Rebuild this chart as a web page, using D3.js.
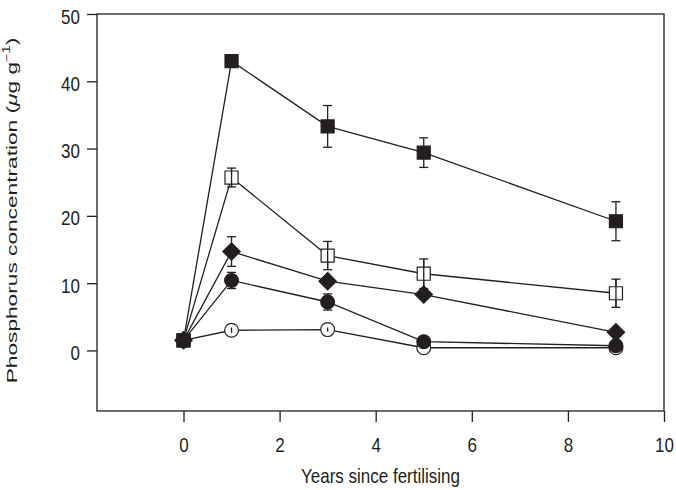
<!DOCTYPE html>
<html>
<head>
<meta charset="utf-8">
<script src="https://cdn.jsdelivr.net/npm/d3@7"></script>
<style>
  body { margin: 0; background: #fff; }
  text { font-family: "Liberation Sans", Arial, sans-serif; fill: #231f20; }
</style>
</head>
<body>
<div id="chart"></div>
<script>
var w = 676,
    h = 490;

var margin = {top: 14, right: 12, bottom: 79, left: 97};

// data
var years = [0, 1, 3, 5, 9];

var filledSquare = [1.5, 43.0, 33.3, 29.4, 19.2],
    filledSquareErr = [0, 0.3, 3.1, 2.2, 2.9];

var openSquare = [1.5, 25.7, 14.1, 11.4, 8.5],
    openSquareErr = [0, 1.4, 2.1, 2.2, 2.1];

var diamond = [1.5, 14.7, 10.3, 8.3, 2.7],
    diamondErr = [0, 2.2, 0.6, 0.5, 0.3];

var filledCircle = [1.5, 10.4, 7.2, 1.3, 0.7],
    filledCircleErr = [0, 1.2, 1.2, 0.3, 0.2];

var openCircle = [1.5, 3.0, 3.1, 0.4, 0.4],
    openCircleErr = [0, 0.4, 0.3, 0.1, 0.1];

var xTicks = [0, 2, 4, 6, 8, 10],
    yTicks = [0, 10, 20, 30, 40, 50];

var series = [
  {name: "openCircle", values: openCircle, err: openCircleErr, shape: "circle", fill: "#fff"},
  {name: "filledCircle", values: filledCircle, err: filledCircleErr, shape: "circle", fill: "#231f20"},
  {name: "diamond", values: diamond, err: diamondErr, shape: "diamond", fill: "#231f20"},
  {name: "openSquare", values: openSquare, err: openSquareErr, shape: "square", fill: "#fff"},
  {name: "filledSquare", values: filledSquare, err: filledSquareErr, shape: "square", fill: "#231f20"}
];

var ink = "#231f20";
var stretch = 1.22; // the original figure's text is a bit taller than wide

// square turned 45 degrees, like the reference diamond
var wideDiamond = {
  draw: function(ctx, size) {
    var r = Math.sqrt(size / 2);
    ctx.moveTo(0, -r);
    ctx.lineTo(r, 0);
    ctx.lineTo(0, r);
    ctx.lineTo(-r, 0);
    ctx.closePath();
  }
};

var svg = d3.select("#chart")
    .append("svg")
    .attr("width", w)
    .attr("height", h);

var x = d3.scaleLinear()
    .domain([-1.8, 10])
    .range([margin.left, w - margin.right]);

var y = d3.scaleLinear()
    .domain([-9, 50])
    .range([h - margin.bottom, margin.top]);

// frame
svg.append("rect")
   .attr("x", x(-1.8))
   .attr("y", y(50))
   .attr("width", x(10) - x(-1.8))
   .attr("height", y(-9) - y(50))
   .attr("fill", "none")
   .attr("stroke", ink)
   .attr("stroke-width", 1.3);

var xAxis = svg.append("g")
    .attr("transform", "translate(0," + y(-9) + ")")
    .call(d3.axisBottom(x).tickValues(xTicks).tickSize(11).tickSizeOuter(0));

var yAxis = svg.append("g")
    .attr("transform", "translate(" + x(-1.8) + ",0)")
    .call(d3.axisLeft(y).tickValues(yTicks).tickSize(10).tickSizeOuter(0));

[xAxis, yAxis].forEach(function(a) {
  a.select(".domain").remove();
  a.selectAll(".tick line").attr("stroke", ink).attr("stroke-width", 1.3);
  a.selectAll(".tick text").attr("font-size", 17).attr("fill", ink)
   .attr("x", 0).attr("y", 0).attr("dy", 0)
   .style("font-family", "'Liberation Sans', Arial, sans-serif");
});

xAxis.selectAll(".tick text")
     .attr("transform", "translate(0,41) scale(1," + stretch + ")");
yAxis.selectAll(".tick text")
     .attr("transform", "translate(-17,9) scale(1," + stretch + ")");

// axis titles
svg.append("text")
   .attr("transform", "translate(" + ((x(-1.8) + x(10)) / 2) + ",483) scale(1," + stretch + ")")
   .attr("text-anchor", "middle")
   .attr("font-size", 17)
   .text("Years since fertilising");

var yl = svg.append("text")
   .attr("text-anchor", "middle")
   .attr("font-size", 15.5);
yl.append("tspan").text("Phosphorus concentration (");
yl.append("tspan").attr("font-style", "italic").text("\u03bc");
yl.append("tspan").text("g g");
yl.append("tspan").attr("font-size", 10).attr("dy", -7).text("\u22121");
yl.append("tspan").attr("dy", 7).text(")");

// stretch the label along its length to match the figure
var ylLen = yl.node().getComputedTextLength() || 240;
yl.attr("transform", "translate(17," + ((y(50) + y(-9)) / 2 - 2) + ") rotate(-90) scale(" + (346 / ylLen) + ",1)");

var line = d3.line()
    .x(function(d) { return x(d[0]); })
    .y(function(d) { return y(d[1]); });

var capW = 4.5;

series.forEach(function(s) {
  var pts = years.map(function(yr, i) { return [yr, s.values[i], s.err[i]]; });
  var g = svg.append("g").attr("class", s.name);

  g.append("path")
   .datum(pts)
   .attr("d", line)
   .attr("fill", "none")
   .attr("stroke", ink)
   .attr("stroke-width", 1.3);

  var eb = g.selectAll(".err")
    .data(pts.filter(function(d) { return d[2] > 0; }))
    .enter().append("g");

  eb.append("line")
    .attr("x1", function(d) { return x(d[0]); })
    .attr("x2", function(d) { return x(d[0]); })
    .attr("y1", function(d) { return y(d[1] + d[2]); })
    .attr("y2", function(d) { return y(d[1] - d[2]); })
    .attr("stroke", ink).attr("stroke-width", 1.3);

  [1, -1].forEach(function(sign) {
    eb.append("line")
      .attr("x1", function(d) { return x(d[0]) - capW; })
      .attr("x2", function(d) { return x(d[0]) + capW; })
      .attr("y1", function(d) { return y(d[1] + sign * d[2]); })
      .attr("y2", function(d) { return y(d[1] + sign * d[2]); })
      .attr("stroke", ink).attr("stroke-width", 1.3);
  });

  var sym = s.shape === "circle" ? d3.symbolCircle :
            s.shape === "square" ? d3.symbolSquare : wideDiamond;
  var size = s.shape === "circle" ? 150 : s.shape === "square" ? 170 : 150;

  g.selectAll(".mark")
    .data(pts)
    .enter().append("path")
    .attr("d", d3.symbol().type(sym).size(size))
    .attr("transform", function(d) { return "translate(" + x(d[0]) + "," + y(d[1]) + ")"; })
    .attr("fill", s.fill)
    .attr("stroke", ink)
    .attr("stroke-width", 1.2);

  // open markers show the error bar through them
  if (s.fill === "#fff") {
    g.selectAll(".inner")
      .data(pts.filter(function(d) { return d[2] > 0; }))
      .enter().append("line")
      .attr("x1", function(d) { return x(d[0]); })
      .attr("x2", function(d) { return x(d[0]); })
      .attr("y1", function(d) { return y(d[1] + d[2]); })
      .attr("y2", function(d) { return y(d[1] - d[2]); })
      .attr("stroke", ink).attr("stroke-width", 1.3);
  }
});
</script>
</body>
</html>
